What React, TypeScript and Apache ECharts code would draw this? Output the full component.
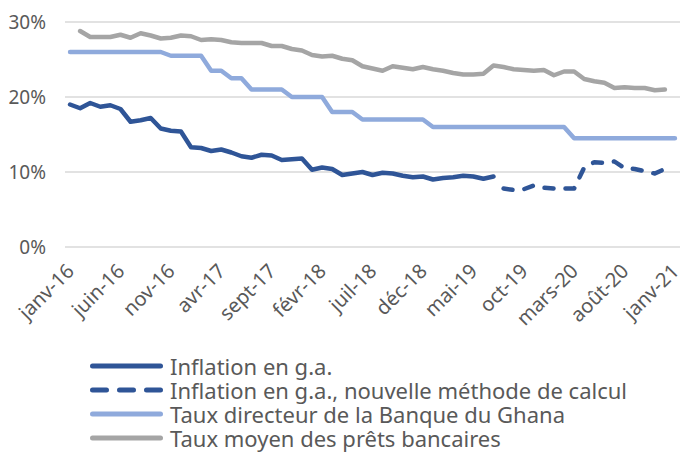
import React, { useEffect, useRef } from "react";
import * as echarts from "echarts";

const MONTHS = ["janv", "févr", "mars", "avr", "mai", "juin", "juil", "août", "sept", "oct", "nov", "déc"];
const categories: string[] = [];
for (let y = 16; y <= 21; y++) {
  for (let m = 0; m < 12; m++) {
    if (y === 21 && m > 0) break;
    categories.push(`${MONTHS[m]}-${y}`);
  }
}

// Inflation (old method), janv-16 .. juil-19
const inflationOld: number[] = [
  19.0, 18.5, 19.2, 18.7, 18.9, 18.4, 16.7, 16.9, 17.2, 15.8, 15.5, 15.4,
  13.3, 13.2, 12.8, 13.0, 12.6, 12.1, 11.9, 12.3, 12.2, 11.6, 11.7, 11.8,
  10.3, 10.6, 10.4, 9.6, 9.8, 10.0, 9.6, 9.9, 9.8, 9.5, 9.3, 9.4,
  9.0, 9.2, 9.3, 9.5, 9.4, 9.1, 9.4,
];
// Inflation (new method), août-19 .. déc-20
const inflationNew: number[] = [
  7.8, 7.6, 7.7, 8.2, 7.9, 7.8, 7.8, 7.8, 10.6, 11.3, 11.2, 11.4, 10.5, 10.4, 10.1, 9.8, 10.4,
];
// Policy rate, janv-16 .. janv-21
const policyRate: number[] = [
  26, 26, 26, 26, 26, 26, 26, 26, 26, 26, 25.5, 25.5,
  25.5, 25.5, 23.5, 23.5, 22.5, 22.5, 21, 21, 21, 21, 20, 20,
  20, 20, 18, 18, 18, 17, 17, 17, 17, 17, 17, 17,
  16, 16, 16, 16, 16, 16, 16, 16, 16, 16, 16, 16,
  16, 16, 14.5, 14.5, 14.5, 14.5, 14.5, 14.5, 14.5, 14.5, 14.5, 14.5,
  14.5,
];
// Average lending rate, févr-16 .. déc-20
const lendingRate: number[] = [
  28.8, 28.0, 28.0, 28.0, 28.3, 27.9, 28.5, 28.2, 27.8, 27.9, 28.2,
  28.1, 27.6, 27.7, 27.6, 27.3, 27.2, 27.2, 27.2, 26.8, 26.8, 26.4, 26.2,
  25.6, 25.4, 25.5, 25.1, 24.9, 24.1, 23.8, 23.5, 24.1, 23.9, 23.7, 24.0,
  23.7, 23.5, 23.2, 23.0, 23.0, 23.1, 24.2, 24.0, 23.7, 23.6, 23.5, 23.6,
  22.9, 23.4, 23.4, 22.4, 22.1, 21.9, 21.2, 21.3, 21.2, 21.2, 20.9, 21.0,
];

const yTicks = [0, 10, 20, 30];

const legendNames = [
  "Inflation en g.a.",
  "Inflation en g.a., nouvelle méthode de calcul",
  "Taux directeur de la Banque du Ghana",
  "Taux moyen des prêts bancaires",
];

const N = categories.length;
const pad = (arr: number[], start: number): (number | null)[] => {
  const out: (number | null)[] = new Array(N).fill(null);
  arr.forEach((v, i) => {
    if (start + i < N) out[start + i] = v;
  });
  return out;
};

const capsule = (x0: number, w: number, h: number) => {
  const r = h / 2;
  return `M${x0 + r},0 L${x0 + w - r},0 A${r},${r} 0 0 1 ${x0 + w - r},${h} L${x0 + r},${h} A${r},${r} 0 0 1 ${x0 + r},0 Z`;
};
const ICON_W = 73;
const ICON_H = 5;
const solidIcon = "path://" + capsule(0, ICON_W, ICON_H);
const dashIcon = "path://" + capsule(0, 19, ICON_H) + " " + capsule(27, 19, ICON_H) + " " + capsule(54, 19, ICON_H);

const FONT = "'Noto Sans', sans-serif";
const TXT = "#595959";

export default function App() {
  const ref = useRef<HTMLDivElement>(null);
  useEffect(() => {
    document.body.style.margin = "0";
    if (!ref.current) return;
    const chart = echarts.init(ref.current, undefined, { renderer: "svg" });
    const lineBase = (color: string) => ({
      type: "line" as const,
      showSymbol: false,
      symbol: "none",
      connectNulls: false,
      lineStyle: { color, width: 4.5, cap: "round", join: "round" },
      itemStyle: { color },
    });
    chart.setOption({
      animation: false,
      textStyle: { fontFamily: FONT },
      grid: { left: 65, right: 17, top: 22, height: 225 },
      xAxis: {
        type: "category",
        data: categories,
        boundaryGap: true,
        axisLine: { show: false },
        axisTick: { show: false },
        axisLabel: {
          interval: 4,
          rotate: 45,
          color: TXT,
          fontSize: 20,
          fontFamily: FONT,
          margin: 20,
          padding: [25, 0, 0, 0],
        },
        splitLine: { show: false },
      },
      yAxis: {
        type: "value",
        min: yTicks[0],
        max: yTicks[yTicks.length - 1],
        interval: 10,
        axisLine: { show: false },
        axisTick: { show: false },
        axisLabel: {
          formatter: "{value}%",
          color: TXT,
          fontSize: 19,
          fontFamily: FONT,
          margin: 19,
        },
        splitLine: { lineStyle: { color: "#D9D9D9", width: 1.5 } },
      },
      legend: {
        orient: "vertical",
        left: 90,
        top: 354,
        height: 100,
        padding: 0,
        itemWidth: ICON_W,
        itemHeight: 24,
        itemGap: 0,
        symbolKeepAspect: true,
        icon: solidIcon,
        textStyle: { color: TXT, fontSize: 22, lineHeight: 24, fontFamily: FONT, padding: [0, 0, 0, 2] },
        data: [
          { name: legendNames[0], icon: solidIcon },
          { name: legendNames[1], icon: dashIcon },
          { name: legendNames[2], icon: solidIcon },
          { name: legendNames[3], icon: solidIcon },
        ],
      },
      series: [
        { ...lineBase("#A5A5A5"), name: legendNames[3], data: pad(lendingRate, 1), z: 1 },
        { ...lineBase("#8FAADC"), name: legendNames[2], data: pad(policyRate, 0), z: 2 },
        { ...lineBase("#2F5597"), name: legendNames[0], data: pad(inflationOld, 0), z: 3 },
        {
          ...lineBase("#2F5597"),
          name: legendNames[1],
          data: pad(inflationNew, 43),
          z: 3,
          lineStyle: { color: "#2F5597", width: 4.5, cap: "round", join: "round", type: [9, 12] },
        },
      ],
    });
    return () => chart.dispose();
  }, []);
  return <div ref={ref} style={{ width: 697, height: 457 }} />;
}
